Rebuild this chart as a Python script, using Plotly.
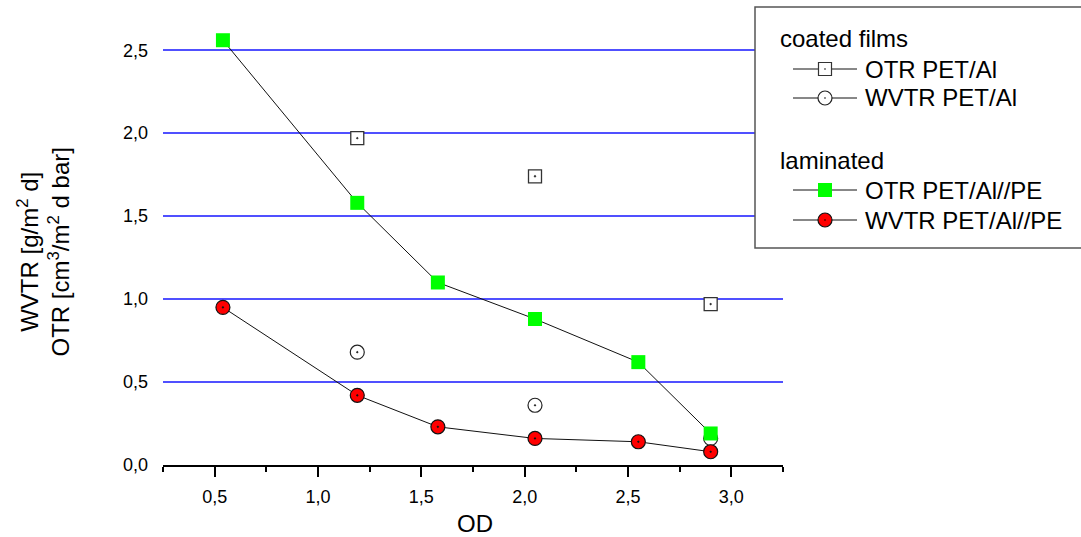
import plotly.graph_objects as go

# Optical density of the Al layer
od = [0.54, 1.19, 1.58, 2.05, 2.55, 2.90]

# Coated films (PET/Al), measured at three OD levels
od_coated = [1.19, 2.05, 2.90]
otr_coated = [1.97, 1.74, 0.97]
wvtr_coated = [0.68, 0.36, 0.16]

# Laminated films (PET/Al//PE)
otr_laminated = [2.56, 1.58, 1.10, 0.88, 0.62, 0.19]
wvtr_laminated = [0.95, 0.42, 0.23, 0.16, 0.14, 0.08]

x_ticks = [0.5, 1.0, 1.5, 2.0, 2.5, 3.0]
x_minor = [0.25, 0.75, 1.25, 1.75, 2.25, 2.75, 3.25]
y_ticks = [0.0, 0.5, 1.0, 1.5, 2.0, 2.5]

FONT = "Liberation Sans, Arial, sans-serif"
W, H = 1081, 537
ML, MR, MT, MB = 163, 298, 17, 72
PW, PH = W - ML - MR, H - MT - MB


def px(x):
    """Horizontal pixel position -> paper coordinate."""
    return (x - ML) / PW


def py(y):
    """Vertical pixel position (from top) -> paper coordinate."""
    return (H - MB - y) / PH


open_square = dict(symbol="square-dot", size=13, color="white",
                   line=dict(color="#333333", width=1.3))
open_circle = dict(symbol="circle-dot", size=14, color="white",
                   line=dict(color="#222222", width=1.2))
green_square = dict(symbol="square", size=14, color="#00ff00",
                    line=dict(width=0))
red_circle = dict(symbol="circle-dot", size=14, color="#ff0000",
                  line=dict(color="#111111", width=1.2))
thin_line = dict(color="#111111", width=1)

fig = go.Figure()
fig.add_trace(go.Scatter(x=od_coated, y=otr_coated, mode="markers",
                         marker=open_square, name="OTR PET/Al"))
fig.add_trace(go.Scatter(x=od_coated, y=wvtr_coated, mode="markers",
                         marker=open_circle, name="WVTR PET/Al"))
fig.add_trace(go.Scatter(x=od, y=otr_laminated, mode="lines+markers",
                         line=thin_line, marker=green_square, name="OTR PET/Al//PE"))
fig.add_trace(go.Scatter(x=od, y=wvtr_laminated, mode="lines+markers",
                         line=thin_line, marker=red_circle, name="WVTR PET/Al//PE"))

# ---- legend box drawn as layout shapes / annotations ----
shapes = []
annotations = []

shapes.append(dict(type="rect", xref="paper", yref="paper",
                   x0=px(755), x1=px(1095), y0=py(248), y1=py(7),
                   line=dict(color="#555555", width=1.5), fillcolor="white",
                   layer="above"))

groups = [("coated films", 38), ("laminated", 160)]
for title, yc in groups:
    annotations.append(dict(text=title, xref="paper", yref="paper",
                            x=px(778), y=py(yc), xanchor="left", yanchor="middle",
                            showarrow=False, font=dict(size=24)))

# (label, row centre, symbol kind, fill, outline)
entries = [
    ("OTR PET/Al", 69, "square", "white", "#333333"),
    ("WVTR PET/Al", 98, "circle", "white", "#222222"),
    ("OTR PET/Al//PE", 190, "square", "#00ff00", None),
    ("WVTR PET/Al//PE", 220, "circle", "#ff0000", "#111111"),
]
LX0, LX1, MX, TX = 793, 857, 825, 863
for label, yc, kind, fill, edge in entries:
    shapes.append(dict(type="line", xref="paper", yref="paper",
                       x0=px(LX0), x1=px(LX1), y0=py(yc), y1=py(yc),
                       line=dict(color="#111111", width=1), layer="above"))
    r = 6.5 if kind == "square" else 7
    if kind == "square" and edge is None:
        r = 7
    shapes.append(dict(type="rect" if kind == "square" else "circle",
                       xref="paper", yref="paper",
                       x0=px(MX - r), x1=px(MX + r), y0=py(yc + r), y1=py(yc - r),
                       fillcolor=fill,
                       line=dict(color=edge or fill, width=1.2 if edge else 0),
                       layer="above"))
    if edge is not None:
        shapes.append(dict(type="circle", xref="paper", yref="paper",
                           x0=px(MX - 0.8), x1=px(MX + 0.8),
                           y0=py(yc + 0.8), y1=py(yc - 0.8),
                           fillcolor="black", line=dict(width=0), layer="above"))
    annotations.append(dict(text=label, xref="paper", yref="paper",
                            x=px(TX), y=py(yc), xanchor="left", yanchor="middle",
                            showarrow=False, font=dict(size=24)))

# ---- axis titles ----
annotations.append(dict(text="OD", xref="paper", yref="paper",
                        x=px(474.5), y=py(523), xanchor="center", yanchor="middle",
                        showarrow=False, font=dict(size=24)))
annotations.append(dict(text="WVTR [g/m<sup>2</sup> d]<br>OTR [cm<sup>3</sup>/m<sup>2</sup> d bar]",
                        xref="paper", yref="paper", x=px(42.5), y=py(252),
                        xanchor="center", yanchor="middle", showarrow=False,
                        textangle=-90, font=dict(size=24)))

fig.update_layout(
    width=W, height=H,
    margin=dict(l=ML, r=MR, t=MT, b=MB, autoexpand=False),
    paper_bgcolor="white", plot_bgcolor="white",
    separators=",.",
    font=dict(family=FONT, size=18, color="black"),
    showlegend=False,
    xaxis=dict(
        range=[0.25, 3.25], tickvals=x_ticks, tickformat=".1f",
        showgrid=False, zeroline=False,
        showline=True, linecolor="black", linewidth=2,
        ticks="outside", ticklen=10, tickwidth=2, tickcolor="black",
        minor=dict(tickvals=x_minor, ticks="outside", ticklen=5,
                   tickwidth=2, tickcolor="black", showgrid=False),
        tickfont=dict(size=18), ticklabelstandoff=4,
    ),
    yaxis=dict(
        range=[0, 2.7], tickvals=y_ticks, tickformat=".1f",
        showgrid=True, gridcolor="#5050ff", gridwidth=1.5,
        zeroline=False, showline=False, ticks="",
        tickfont=dict(size=18), ticklabelstandoff=14,
    ),
    shapes=shapes,
    annotations=annotations,
)

fig.write_html("out.html")
